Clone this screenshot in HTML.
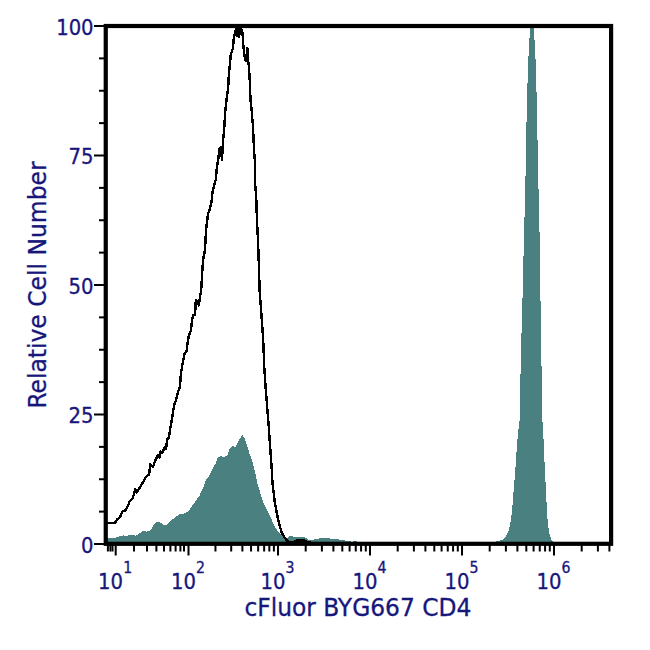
<!DOCTYPE html>
<html><head><meta charset="utf-8"><title>cFluor BYG667 CD4</title>
<style>
html,body{margin:0;padding:0;background:#fff;}
body{width:650px;height:650px;overflow:hidden;}
svg text{stroke:#17177b;stroke-width:0.3px;}
svg{display:block;font-family:"DejaVu Sans Condensed","DejaVu Sans","Liberation Sans",sans-serif;}
</style></head><body>
<svg width="650" height="650" viewBox="0 0 650 650">
<rect width="650" height="650" fill="#fff"/>
<polygon points="106.0,544.0 106.0,538.4 115.0,538.4 117.3,536.8 120.4,536.2 123.5,535.3 125.8,536.2 128.8,535.3 133.5,534.7 135.8,535.8 138.1,534.2 141.2,532.2 144.2,530.4 146.5,531.6 149.6,530.7 151.9,528.1 154.2,524.2 156.5,521.9 159.6,521.9 161.9,523.5 164.2,525.0 166.5,524.5 168.8,523.0 171.2,520.4 174.2,518.1 177.3,515.8 180.4,513.5 183.5,513.8 186.5,512.2 188.3,511.7 191.1,507.1 194.8,502.5 197.5,498.3 199.9,495.1 201.7,490.5 204.0,485.9 205.9,480.3 208.6,476.6 210.9,472.0 213.2,467.4 216.0,462.8 218.0,456.9 221.5,456.2 224.2,457.4 227.7,454.8 229.5,449.5 233.1,445.9 234.8,447.7 237.5,443.3 240.1,438.0 242.4,435.3 244.6,438.0 247.2,445.9 249.9,454.8 252.5,461.9 255.2,472.5 257.8,484.9 260.5,493.7 264.0,504.3 267.6,511.4 271.1,518.5 274.6,526.5 278.2,531.8 282.6,536.2 287.0,538.0 289.0,536.6 291.5,535.8 295.0,537.3 298.0,537.0 302.0,536.6 306.0,538.0 310.0,540.6 314.0,539.6 318.0,538.6 326.0,537.6 332.0,539.0 340.0,539.6 346.0,540.6 352.0,541.6 356.0,541.2 359.0,542.0 362.0,544.0" fill="#4b8080" shape-rendering="crispEdges"/>
<polygon points="490.0,544.0 496.0,541.6 502.0,540.0 506.0,536.0 509.0,530.0 511.0,520.0 512.6,504.0 514.0,486.0 515.6,466.0 517.0,444.0 518.4,430.0 519.6,420.0 520.0,394.0 520.6,370.0 521.0,350.0 521.6,330.0 522.4,300.0 523.0,290.0 523.4,260.0 524.0,236.0 524.6,214.0 525.4,180.0 526.0,160.0 526.4,127.7 527.1,95.4 528.2,63.0 529.2,41.5 530.3,28.6 531.8,26.0 534.0,28.6 534.6,41.5 535.7,63.0 536.3,84.6 537.2,117.0 537.8,160.0 538.4,184.0 539.0,210.0 539.6,236.0 540.0,260.0 540.4,290.0 540.6,310.0 541.0,340.0 541.4,360.0 542.0,390.0 542.4,420.0 543.6,440.0 544.4,460.0 545.4,480.0 546.4,500.0 547.6,520.0 549.0,532.0 551.0,539.0 553.0,541.6 557.0,544.0" fill="#4b8080" shape-rendering="crispEdges"/>
<polyline points="106.0,523.2 114.8,523.2 117.2,519.5 120.3,516.5 122.8,510.9 125.8,510.3 128.6,504.2 129.5,501.7 132.6,498.6 134.2,493.1 135.1,488.8 136.7,492.5 139.4,488.2 143.1,482.0 146.2,476.5 149.2,474.6 150.2,464.2 152.9,467.2 154.8,461.7 157.8,454.9 159.7,457.4 160.5,451.4 162.3,452.6 164.8,447.0 166.0,449.0 167.2,439.0 169.0,437.8 169.7,431.7 171.2,423.0 172.2,418.2 173.4,409.5 174.6,403.4 175.8,401.0 177.3,394.8 178.9,389.2 180.2,386.2 180.4,378.0 181.5,370.0 182.8,362.6 184.6,354.0 186.5,351.5 187.7,341.7 188.9,335.5 190.8,330.6 192.2,319.5 193.2,315.2 195.1,314.6 195.7,302.3 196.3,299.8 198.8,305.4 200.0,297.4 201.2,290.0 202.0,276.0 203.0,260.0 205.0,250.0 206.0,230.0 208.0,214.0 209.5,210.0 211.4,202.6 212.6,191.5 214.5,184.2 215.9,179.2 216.9,166.9 218.4,158.3 219.3,149.0 220.8,147.0 222.0,159.5 223.1,139.8 224.1,130.0 225.2,112.0 226.5,100.0 228.1,88.9 228.9,74.2 230.2,60.6 230.8,54.5 233.0,48.3 233.8,38.5 235.7,29.8 236.3,28.6 236.9,36.0 237.6,28.6 238.4,28.6 239.1,37.2 239.8,29.0 241.0,28.6 242.5,32.3 243.3,44.6 244.6,56.9 245.8,60.6 247.4,48.3 247.8,59.4 249.0,66.8 249.8,81.5 250.5,100.0 251.6,110.0 252.7,123.4 253.4,135.0 253.8,145.0 254.2,152.0 255.1,164.5 255.3,185.4 256.3,199.0 256.6,210.0 257.2,225.0 258.0,240.0 258.8,264.0 259.6,290.0 260.2,298.0 261.4,314.0 263.2,340.0 264.2,366.0 265.8,390.0 267.4,410.0 268.2,420.0 269.0,430.0 270.2,447.7 271.5,465.4 272.5,483.1 274.6,500.8 276.8,513.2 279.1,523.8 281.7,532.7 284.4,537.1 287.0,540.6 289.5,542.5 293.0,542.5 296.0,540.6 305.0,540.6 308.0,542.5 320.0,543.5 609.0,543.5" fill="none" stroke="#000" stroke-width="2.4" stroke-linejoin="round" shape-rendering="crispEdges"/>
<rect x="105.75" y="26" width="505.35" height="517.8" fill="none" stroke="#000" stroke-width="4.2"/>
<rect x="94" y="25.00" width="11" height="2" fill="#000"/>
<rect x="99" y="57.38" width="6" height="2" fill="#000"/>
<rect x="99" y="89.75" width="6" height="2" fill="#000"/>
<rect x="99" y="122.12" width="6" height="2" fill="#000"/>
<rect x="94" y="154.50" width="11" height="2" fill="#000"/>
<rect x="99" y="186.88" width="6" height="2" fill="#000"/>
<rect x="99" y="219.25" width="6" height="2" fill="#000"/>
<rect x="99" y="251.62" width="6" height="2" fill="#000"/>
<rect x="94" y="284.00" width="11" height="2" fill="#000"/>
<rect x="99" y="316.38" width="6" height="2" fill="#000"/>
<rect x="99" y="348.75" width="6" height="2" fill="#000"/>
<rect x="99" y="381.12" width="6" height="2" fill="#000"/>
<rect x="94" y="413.50" width="11" height="2" fill="#000"/>
<rect x="99" y="445.88" width="6" height="2" fill="#000"/>
<rect x="99" y="478.25" width="6" height="2" fill="#000"/>
<rect x="99" y="510.62" width="6" height="2" fill="#000"/>
<rect x="94" y="543.00" width="11" height="2" fill="#000"/>
<rect x="106.90" y="545" width="2" height="6.5" fill="#000"/>
<rect x="109.40" y="545" width="2" height="6.5" fill="#000"/>
<rect x="111.50" y="545" width="2" height="6.5" fill="#000"/>
<rect x="133.00" y="545" width="2" height="6.5" fill="#000"/>
<rect x="146.00" y="545" width="2" height="6.5" fill="#000"/>
<rect x="155.40" y="545" width="2" height="6.5" fill="#000"/>
<rect x="163.00" y="545" width="2" height="6.5" fill="#000"/>
<rect x="169.40" y="545" width="2" height="6.5" fill="#000"/>
<rect x="174.60" y="545" width="2" height="6.5" fill="#000"/>
<rect x="179.40" y="545" width="2" height="6.5" fill="#000"/>
<rect x="183.00" y="545" width="2" height="6.5" fill="#000"/>
<rect x="214.44" y="545" width="2" height="6.5" fill="#000"/>
<rect x="230.20" y="545" width="2" height="6.5" fill="#000"/>
<rect x="241.38" y="545" width="2" height="6.5" fill="#000"/>
<rect x="250.06" y="545" width="2" height="6.5" fill="#000"/>
<rect x="257.14" y="545" width="2" height="6.5" fill="#000"/>
<rect x="263.14" y="545" width="2" height="6.5" fill="#000"/>
<rect x="268.33" y="545" width="2" height="6.5" fill="#000"/>
<rect x="272.90" y="545" width="2" height="6.5" fill="#000"/>
<rect x="304.69" y="545" width="2" height="6.5" fill="#000"/>
<rect x="320.90" y="545" width="2" height="6.5" fill="#000"/>
<rect x="332.39" y="545" width="2" height="6.5" fill="#000"/>
<rect x="341.31" y="545" width="2" height="6.5" fill="#000"/>
<rect x="348.59" y="545" width="2" height="6.5" fill="#000"/>
<rect x="354.75" y="545" width="2" height="6.5" fill="#000"/>
<rect x="360.08" y="545" width="2" height="6.5" fill="#000"/>
<rect x="364.79" y="545" width="2" height="6.5" fill="#000"/>
<rect x="396.69" y="545" width="2" height="6.5" fill="#000"/>
<rect x="412.90" y="545" width="2" height="6.5" fill="#000"/>
<rect x="424.39" y="545" width="2" height="6.5" fill="#000"/>
<rect x="433.31" y="545" width="2" height="6.5" fill="#000"/>
<rect x="440.59" y="545" width="2" height="6.5" fill="#000"/>
<rect x="446.75" y="545" width="2" height="6.5" fill="#000"/>
<rect x="452.08" y="545" width="2" height="6.5" fill="#000"/>
<rect x="456.79" y="545" width="2" height="6.5" fill="#000"/>
<rect x="488.69" y="545" width="2" height="6.5" fill="#000"/>
<rect x="504.90" y="545" width="2" height="6.5" fill="#000"/>
<rect x="516.39" y="545" width="2" height="6.5" fill="#000"/>
<rect x="525.31" y="545" width="2" height="6.5" fill="#000"/>
<rect x="532.59" y="545" width="2" height="6.5" fill="#000"/>
<rect x="538.75" y="545" width="2" height="6.5" fill="#000"/>
<rect x="544.08" y="545" width="2" height="6.5" fill="#000"/>
<rect x="548.79" y="545" width="2" height="6.5" fill="#000"/>
<rect x="580.69" y="545" width="2" height="6.5" fill="#000"/>
<rect x="596.90" y="545" width="2" height="6.5" fill="#000"/>
<rect x="608.39" y="545" width="2" height="6.5" fill="#000"/>
<rect x="114.70" y="545" width="2" height="10.5" fill="#000"/>
<rect x="187.50" y="545" width="2" height="10.5" fill="#000"/>
<rect x="277.00" y="545" width="2" height="10.5" fill="#000"/>
<rect x="369.00" y="545" width="2" height="10.5" fill="#000"/>
<rect x="461.00" y="545" width="2" height="10.5" fill="#000"/>
<rect x="553.00" y="545" width="2" height="10.5" fill="#000"/>
<text transform="translate(93.6 34.9) scale(1.02 1)" text-anchor="end" textLength="36.74" lengthAdjust="spacingAndGlyphs" font-size="21.4" fill="#17177b">100</text>
<text transform="translate(93.6 164.4) scale(1.02 1)" text-anchor="end" textLength="24.49" lengthAdjust="spacingAndGlyphs" font-size="21.4" fill="#17177b">75</text>
<text transform="translate(93.6 293.9) scale(1.02 1)" text-anchor="end" textLength="24.49" lengthAdjust="spacingAndGlyphs" font-size="21.4" fill="#17177b">50</text>
<text transform="translate(93.6 423.4) scale(1.02 1)" text-anchor="end" textLength="24.49" lengthAdjust="spacingAndGlyphs" font-size="21.4" fill="#17177b">25</text>
<text transform="translate(93.6 552.9) scale(1.02 1)" text-anchor="end" textLength="12.25" lengthAdjust="spacingAndGlyphs" font-size="21.4" fill="#17177b">0</text>
<text transform="translate(98.1 589.1) scale(1.02 1)" textLength="24.49" lengthAdjust="spacingAndGlyphs" font-size="21.4" fill="#17177b">10</text>
<text transform="translate(123.2 572.7) scale(1.02 1)" textLength="8.82" lengthAdjust="spacingAndGlyphs" font-size="15.4" fill="#17177b">1</text>
<text transform="translate(170.9 589.1) scale(1.02 1)" textLength="24.49" lengthAdjust="spacingAndGlyphs" font-size="21.4" fill="#17177b">10</text>
<text transform="translate(196.0 572.7) scale(1.02 1)" textLength="8.82" lengthAdjust="spacingAndGlyphs" font-size="15.4" fill="#17177b">2</text>
<text transform="translate(260.4 589.1) scale(1.02 1)" textLength="24.49" lengthAdjust="spacingAndGlyphs" font-size="21.4" fill="#17177b">10</text>
<text transform="translate(285.5 572.7) scale(1.02 1)" textLength="8.82" lengthAdjust="spacingAndGlyphs" font-size="15.4" fill="#17177b">3</text>
<text transform="translate(352.4 589.1) scale(1.02 1)" textLength="24.49" lengthAdjust="spacingAndGlyphs" font-size="21.4" fill="#17177b">10</text>
<text transform="translate(377.5 572.7) scale(1.02 1)" textLength="8.82" lengthAdjust="spacingAndGlyphs" font-size="15.4" fill="#17177b">4</text>
<text transform="translate(444.4 589.1) scale(1.02 1)" textLength="24.49" lengthAdjust="spacingAndGlyphs" font-size="21.4" fill="#17177b">10</text>
<text transform="translate(469.5 572.7) scale(1.02 1)" textLength="8.82" lengthAdjust="spacingAndGlyphs" font-size="15.4" fill="#17177b">5</text>
<text transform="translate(536.4 589.1) scale(1.02 1)" textLength="24.49" lengthAdjust="spacingAndGlyphs" font-size="21.4" fill="#17177b">10</text>
<text transform="translate(561.5 572.7) scale(1.02 1)" textLength="8.82" lengthAdjust="spacingAndGlyphs" font-size="15.4" fill="#17177b">6</text>
<text x="244.4" y="616.2" textLength="227.0" lengthAdjust="spacingAndGlyphs" font-size="25.6" fill="#17177b">cFluor BYG667 CD4</text>
<text transform="translate(46.2 408.6) rotate(-90)" textLength="247.2" lengthAdjust="spacingAndGlyphs" font-size="25.4" fill="#17177b">Relative Cell Number</text>
</svg>
</body></html>
